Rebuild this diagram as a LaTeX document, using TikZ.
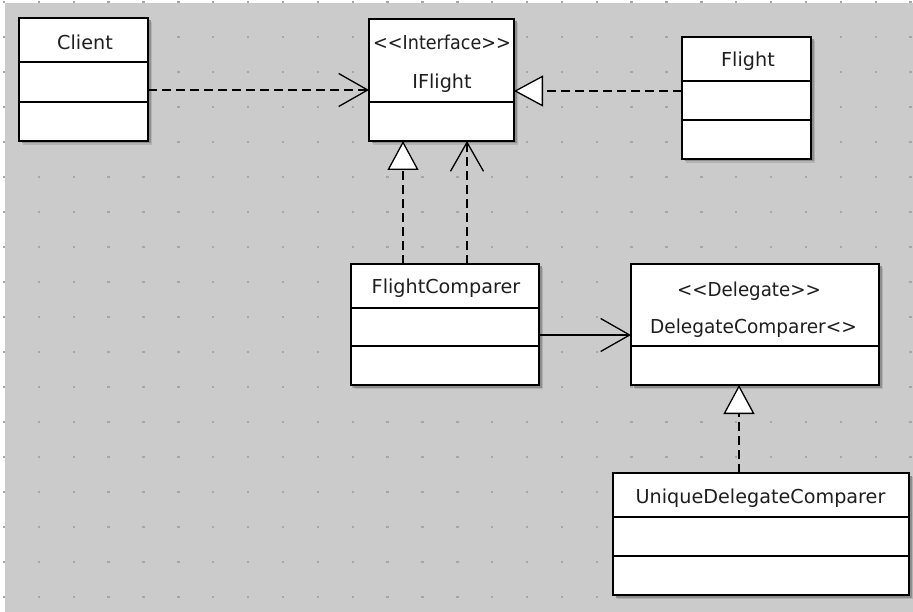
\documentclass[tikz,border=0pt]{standalone}
\usepackage{fontspec}
\setmainfont{DejaVu Sans}
\usetikzlibrary{arrows.meta,shadows}
\definecolor{bg}{HTML}{CBCBCB}
\definecolor{griddot}{HTML}{A6A6A6}
\definecolor{txt}{HTML}{1E1E1E}
\tikzset{
  cls/.style={draw=black, line width=1.3pt, fill=white, rectangle, inner sep=0pt, outer sep=0pt,
    drop shadow={shadow xshift=4pt, shadow yshift=-4pt, fill=black!12!bg, opacity=1},
    drop shadow={shadow xshift=2.5pt, shadow yshift=-2.5pt, fill=black!30!bg, opacity=1}},
  divider/.style={draw=black, line width=1.3pt},
  lbl/.style={inner sep=0pt, text height=14pt, text depth=0pt, text=txt, font=\fontsize{19.2}{22}\selectfont},
  conn/.style={draw=black, line width=1.3pt},
  dashedline/.style={dash pattern=on 9pt off 5pt},
  openhead/.style={-{Straight Barb[length=29pt, width=33pt, line width=1.3pt]}},
  trihead/.style={-{Triangle[length=29pt, width=31pt, fill=white, line width=1.3pt]}}
}
\begin{document}
\begin{tikzpicture}[x=1pt, y=-1pt]
\useasboundingbox (0,0) rectangle (913,612);
\fill[white] (0,0) rectangle (913,612);
\fill[bg] (5,3) rectangle (913,612);
\foreach \i in {0,...,26} {
  \foreach \j in {0,...,17} {
    \fill[griddot] ({4+34.87*\i-1.2},{2+35*\j-1.2}) rectangle ++(2.4,2.4);
  }
}
% classes
\node[cls, minimum width=129pt, minimum height=123pt] (client) at (83.5,79.5) {};
\node[cls, minimum width=145pt, minimum height=122pt] (iflight) at (441.5,80) {};
\node[cls, minimum width=129pt, minimum height=122pt] (flight) at (746.5,98) {};
\node[cls, minimum width=188pt, minimum height=121pt] (fc) at (445,324.5) {};
\node[cls, minimum width=248pt, minimum height=121pt] (dc) at (755,324.5) {};
\node[cls, minimum width=296pt, minimum height=122pt] (udc) at (761,534) {};
% dividers
\draw[divider] (client.west |- 0,62) -- (client.east |- 0,62);
\draw[divider] (client.west |- 0,102) -- (client.east |- 0,102);
\draw[divider] (iflight.west |- 0,102) -- (iflight.east |- 0,102);
\draw[divider] (flight.west |- 0,81) -- (flight.east |- 0,81);
\draw[divider] (flight.west |- 0,120) -- (flight.east |- 0,120);
\draw[divider] (fc.west |- 0,308) -- (fc.east |- 0,308);
\draw[divider] (fc.west |- 0,346) -- (fc.east |- 0,346);
\draw[divider] (dc.west |- 0,346) -- (dc.east |- 0,346);
\draw[divider] (udc.west |- 0,517) -- (udc.east |- 0,517);
\draw[divider] (udc.west |- 0,556) -- (udc.east |- 0,556);
% labels
\node[lbl] (clientname) at (85,42.5) {Client};
\node[lbl] (ifstereo) at (442,43) {\scalebox{0.915}[1]{{<}{<}Interface{>}{>}}};
\node[lbl] (ifname) at (442,81.5) {IFlight};
\node[lbl] (flightname) at (748,60) {Flight};
\node[lbl] (fcname) at (446,286.5) {FlightComparer};
\node[lbl] (dcstereo) at (749,290) {\scalebox{0.95}[1]{{<}{<}Delegate{>}{>}}};
\node[lbl] (dcname) at (753.5,327) {\scalebox{0.965}[1]{DelegateComparer{<}{>}}};
\node[lbl] (udcname) at (760.5,496.5) {UniqueDelegateComparer};
% connectors
\draw[conn, dashedline, openhead] (client.east |- 0,90) -- (iflight.west |- 0,90);
\draw[conn, dashedline, trihead] (flight.west |- 0,91) -- (iflight.east |- 0,91);
\draw[conn, dashedline, trihead] (fc.north -| 403,0) -- (iflight.south -| 403,0);
\draw[conn, dashedline, openhead] (fc.north -| 467,0) -- (iflight.south -| 467,0);
\draw[conn, openhead] (fc.east |- 0,335) -- (dc.west |- 0,335);
\draw[conn, dashedline, trihead] (udc.north -| 739,0) -- (dc.south -| 739,0);
\end{tikzpicture}
\end{document}
